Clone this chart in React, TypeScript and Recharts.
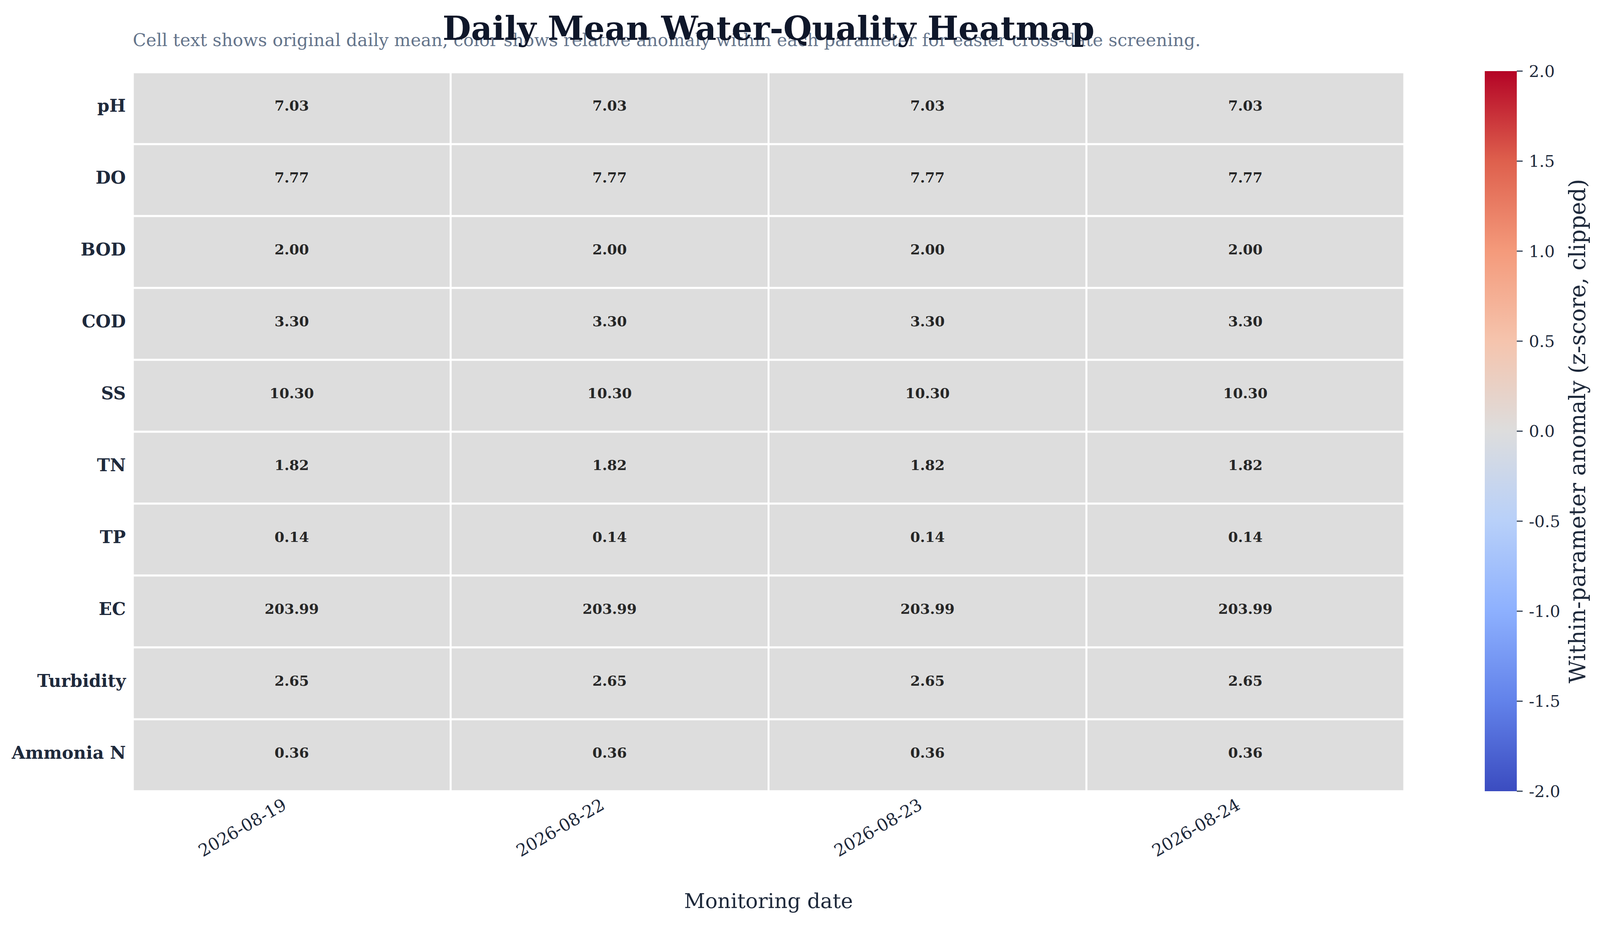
import React from "react";
import { BarChart, Bar, XAxis, YAxis, Cell, LabelList, Label } from "recharts";

// monitoring dates (columns) and parameters (rows)
const dates = ["2026-08-19", "2026-08-22", "2026-08-23", "2026-08-24"];
const parameters = ["pH", "DO", "BOD", "COD", "SS", "TN", "TP", "EC", "Turbidity", "Ammonia N"];

// daily means per date, in parameter order
const means0819 = [7.03, 7.77, 2.0, 3.3, 10.3, 1.82, 0.14, 203.99, 2.65, 0.36];
const means0822 = [7.03, 7.77, 2.0, 3.3, 10.3, 1.82, 0.14, 203.99, 2.65, 0.36];
const means0823 = [7.03, 7.77, 2.0, 3.3, 10.3, 1.82, 0.14, 203.99, 2.65, 0.36];
const means0824 = [7.03, 7.77, 2.0, 3.3, 10.3, 1.82, 0.14, 203.99, 2.65, 0.36];
const dailyMeans = [means0819, means0822, means0823, means0824];

const colorbarTicks = [-2, -1.5, -1, -0.5, 0, 0.5, 1, 1.5, 2];

// coolwarm colormap stops
const COOLWARM = [
  [59, 76, 192],
  [98, 130, 234],
  [141, 176, 254],
  [184, 208, 249],
  [221, 221, 221],
  [245, 196, 173],
  [244, 154, 123],
  [222, 96, 77],
  [180, 4, 38],
];

const rgb = (c: number[]) => `rgb(${c.map((v) => Math.round(v)).join(",")})`;

const coolwarm = (z: number) => {
  const t = (Math.max(-2, Math.min(2, z)) + 2) / 4;
  const pos = t * (COOLWARM.length - 1);
  const i = Math.min(Math.floor(pos), COOLWARM.length - 2);
  const f = pos - i;
  return rgb(COOLWARM[i].map((v, k) => v + (COOLWARM[i + 1][k] - v) * f));
};

// z-score of each cell within its parameter (row)
const zScores = parameters.map((_, i) => {
  const vals = dailyMeans.map((col) => col[i]);
  const mean = vals.reduce((a, b) => a + b, 0) / vals.length;
  const sd = Math.sqrt(vals.reduce((a, b) => a + (b - mean) ** 2, 0) / vals.length);
  return vals.map((v) => (sd > 1e-12 ? (v - mean) / sd : 0));
});

// every cell is one unit wide on the x scale
const rows = parameters.map((p) => {
  const r: Record<string, any> = { param: p };
  dates.forEach((_, j) => (r[`d${j}`] = 1));
  return r;
});

const TEXT = "#1e293b";

// the page may be narrower than the 4519px design; scale horizontally
const W = Math.min(typeof window !== "undefined" && window.innerWidth ? window.innerWidth : 4519, 4519);
const H = 2370;
const SX = W / 4519;
const fx = (v: number) => Math.round(v * SX);

const PLOT_L = fx(375);
const PLOT_R = fx(3966);
const CB_L = fx(4193);
const CB_W = fx(91);

const DateTick = ({ x, y, payload }: any) => {
  const label = dates[Math.round(payload.value - 0.5)];
  const px = x - fx(30);
  const py = y + 15;
  return (
    <text
      x={px}
      y={py}
      dy="0.76em"
      textAnchor="end"
      fontSize={48 * SX}
      fill={TEXT}
      transform={`rotate(-30, ${px}, ${py})`}
    >
      {label}
    </text>
  );
};

const ParamTick = ({ x, y, payload }: any) => (
  <text x={x} y={y - 7} dy="0.36em" textAnchor="end" fontSize={49 * SX} fontWeight="bold" fill={TEXT}>
    {payload.value}
  </text>
);

const cellLabel = (j: number) => (p: any) => {
  const cx = p.x + p.width / 2;
  const cy = p.y + p.height / 2;
  return (
    <text x={cx} y={cy - 7} dy="0.36em" textAnchor="middle" fontSize={40 * SX} fontWeight="bold" fill="#262626">
      {dailyMeans[j][p.index].toFixed(2)}
    </text>
  );
};

export default function App() {
  return (
    <div
      style={{
        position: "absolute",
        left: 0,
        top: 0,
        width: W,
        height: H,
        background: "#fff",
        fontFamily: "'DejaVu Serif', serif",
      }}
    >
      <BarChart
        width={W}
        height={H}
        data={rows}
        layout="vertical"
        margin={{ top: 185, right: W - PLOT_R, bottom: 0, left: 0 }}
        barCategoryGap={0}
      >
        <XAxis
          type="number"
          domain={[0, dates.length]}
          ticks={dates.map((_, j) => j + 0.5)}
          interval={0}
          height={345}
          axisLine={false}
          tickLine={false}
          tickSize={0}
          tickMargin={0}
          tick={<DateTick />}
        >
          <Label
            value="Monitoring date"
            position="insideBottom"
            offset={46}
            style={{ fontSize: 58 * SX, fill: TEXT }}
          />
        </XAxis>
        <YAxis
          type="category"
          dataKey="param"
          width={PLOT_L}
          axisLine={false}
          tickLine={false}
          tickSize={0}
          tickMargin={fx(20)}
          interval={0}
          tick={<ParamTick />}
        />
        {dates.map((d, j) => (
          <Bar
            key={d}
            dataKey={`d${j}`}
            stackId="grid"
            stroke="#ffffff"
            strokeWidth={5}
            isAnimationActive={false}
          >
            {rows.map((_, i) => (
              <Cell key={i} fill={coolwarm(zScores[i][j])} />
            ))}
            <LabelList dataKey={`d${j}`} content={cellLabel(j)} />
          </Bar>
        ))}
      </BarChart>

      {/* colorbar */}
      <div style={{ position: "absolute", left: CB_L, top: 0 }}>
        <BarChart
          width={W - CB_L}
          height={H}
          data={[{ name: "cb", range: [-2, 2] }]}
          margin={{ top: 182, right: 0, bottom: 345, left: 0 }}
          barCategoryGap={0}
        >
          <defs>
            <linearGradient id="coolwarmGrad" x1="0" y1="1" x2="0" y2="0">
              {COOLWARM.map((c, k) => (
                <stop key={k} offset={k / (COOLWARM.length - 1)} stopColor={rgb(c)} />
              ))}
            </linearGradient>
          </defs>
          <XAxis dataKey="name" hide />
          <YAxis
            orientation="right"
            type="number"
            domain={[-2, 2]}
            ticks={colorbarTicks}
            interval={0}
            width={W - CB_L - CB_W}
            axisLine={false}
            tickLine={{ stroke: "#334155", strokeWidth: 3 }}
            tickSize={fx(16)}
            tickMargin={fx(18)}
            tick={{ fontSize: 46 * SX, fill: TEXT }}
            tickFormatter={(v: number) => v.toFixed(1)}
          >
            <Label
              content={({ viewBox }: any) => {
                const lx = viewBox.x + fx(170);
                const ly = viewBox.y + viewBox.height / 2;
                return (
                  <text
                    x={lx}
                    y={ly}
                    dy="0.36em"
                    textAnchor="middle"
                    fontSize={57}
                    fill={TEXT}
                    transform={`rotate(-90, ${lx}, ${ly})`}
                  >
                    Within-parameter anomaly (z-score, clipped)
                  </text>
                );
              }}
            />
          </YAxis>
          <Bar dataKey="range" fill="url(#coolwarmGrad)" isAnimationActive={false} />
        </BarChart>
      </div>

      {/* title and subtitle */}
      <svg width={W} height={200} style={{ position: "absolute", left: 0, top: 0, pointerEvents: "none" }}>
        <text x={PLOT_L} y={118} fontSize={49.1 * SX} fill="#64748b">
          Cell text shows original daily mean, color shows relative anomaly within each parameter for easier cross-date screening.
        </text>
        <text
          x={(PLOT_L + PLOT_R) / 2}
          y={102}
          textAnchor="middle"
          fontSize={92.6 * SX}
          fontWeight="bold"
          fill="#0f172a"
        >
          Daily Mean Water-Quality Heatmap
        </text>
      </svg>
    </div>
  );
}
